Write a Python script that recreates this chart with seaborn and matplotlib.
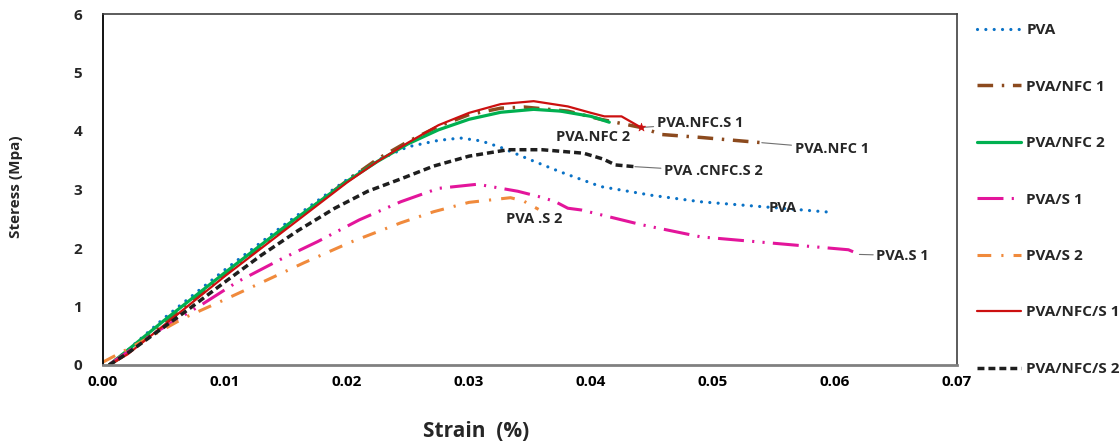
import numpy as np
import pandas as pd
import matplotlib
matplotlib.use("Agg")
import matplotlib.pyplot as plt
import seaborn as sns

# ---- stress-strain data (strain in %, stress in MPa) ----
pva_x = [0.0005, 0.002, 0.005, 0.010, 0.015, 0.020, 0.0225, 0.025, 0.0275, 0.0293,
         0.031, 0.0326, 0.035, 0.0375, 0.0408, 0.045, 0.049, 0.055, 0.0597]
pva_y = [0.0, 0.25, 0.80, 1.63, 2.42, 3.17, 3.50, 3.73, 3.84, 3.88,
         3.83, 3.72, 3.51, 3.30, 3.05, 2.90, 2.79, 2.69, 2.61]

nfc1_x = [0.0005, 0.002, 0.005, 0.010, 0.015, 0.020, 0.0225, 0.025, 0.0275, 0.030,
          0.0326, 0.0345, 0.0381, 0.0408, 0.0441, 0.0458, 0.049, 0.054]
nfc1_y = [0.0, 0.20, 0.70, 1.55, 2.35, 3.15, 3.52, 3.82, 4.08, 4.28,
          4.39, 4.41, 4.34, 4.20, 4.06, 3.94, 3.89, 3.80]

nfc2_x = [0.0005, 0.002, 0.005, 0.010, 0.015, 0.020, 0.0225, 0.025, 0.0275, 0.030,
          0.0326, 0.0353, 0.0375, 0.040, 0.0415]
nfc2_y = [0.0, 0.25, 0.76, 1.58, 2.38, 3.14, 3.48, 3.78, 4.02, 4.20,
          4.32, 4.37, 4.34, 4.25, 4.15]

s1_x = [0.0006, 0.002, 0.004, 0.008, 0.011, 0.0145, 0.0176, 0.021, 0.0244, 0.0275,
        0.0307, 0.034, 0.0357, 0.037, 0.0381, 0.0392, 0.0441, 0.049, 0.0545, 0.0611, 0.062]
s1_y = [0.02, 0.22, 0.52, 1.02, 1.42, 1.80, 2.11, 2.48, 2.79, 3.02,
        3.09, 2.97, 2.88, 2.80, 2.68, 2.65, 2.40, 2.19, 2.09, 1.97, 1.89]

s2_x = [0.0, 0.003, 0.0066, 0.010, 0.0129, 0.0165, 0.0203, 0.0244, 0.0271, 0.030,
        0.0334, 0.0345, 0.0357]
s2_y = [0.05, 0.38, 0.80, 1.12, 1.40, 1.75, 2.10, 2.43, 2.62, 2.78,
        2.86, 2.80, 2.66]

nfcs1_x = [0.0005, 0.002, 0.005, 0.010, 0.015, 0.020, 0.0225, 0.025, 0.0275, 0.030,
           0.0326, 0.0353, 0.0381, 0.040, 0.0411, 0.0425, 0.0441]
nfcs1_y = [0.0, 0.18, 0.68, 1.52, 2.32, 3.12, 3.48, 3.80, 4.10, 4.31,
           4.46, 4.51, 4.42, 4.31, 4.25, 4.25, 4.06]

nfcs2_x = [0.0005, 0.002, 0.004, 0.007, 0.010, 0.013, 0.016, 0.019, 0.0217, 0.0244,
           0.0271, 0.030, 0.0332, 0.036, 0.0394, 0.041, 0.042, 0.0436]
nfcs2_y = [0.0, 0.20, 0.50, 0.95, 1.42, 1.88, 2.30, 2.68, 2.97, 3.18,
           3.40, 3.57, 3.68, 3.68, 3.62, 3.52, 3.42, 3.39]

labels = ["PVA", "PVA/NFC 1", "PVA/NFC 2", "PVA/S 1", "PVA/S 2",
          "PVA/NFC/S 1", "PVA/NFC/S 2"]
x_ticks = [0.00, 0.01, 0.02, 0.03, 0.04, 0.05, 0.06, 0.07]
y_ticks = [0, 1, 2, 3, 4, 5, 6]

series = [(pva_x, pva_y), (nfc1_x, nfc1_y), (nfc2_x, nfc2_y), (s1_x, s1_y),
          (s2_x, s2_y), (nfcs1_x, nfcs1_y), (nfcs2_x, nfcs2_y)]

styles = [
    dict(color="#0A72C6", lw=2.3, ls=(0, (0.01, 2.6)), cap="round"),
    dict(color="#8C4A1E", lw=2.5, ls=(0, (4.5, 2.5, 0.7, 2.5)), cap="butt"),
    dict(color="#00B050", lw=2.3, ls="-", cap="butt"),
    dict(color="#E3159B", lw=2.2, ls=(0, (8.5, 2.7, 0.7, 2.7, 0.7, 2.7)), cap="butt"),
    dict(color="#F08A3C", lw=2.2, ls=(0, (4.5, 3.3, 0.7, 3.3)), cap="butt"),
    dict(color="#CC1010", lw=1.6, ls="-", cap="butt"),
    dict(color="#1E1E1E", lw=2.5, ls=(0, (2.0, 1.15)), cap="butt"),
]

sns.set_style("white")
plt.rcParams["font.family"] = ["Open Sans", "DejaVu Sans"]

fig = plt.figure(figsize=(11.2, 4.43), dpi=100)
ax = fig.add_axes([103 / 1120, 1 - 365 / 443, 854 / 1120, 351 / 443])

for (xs, ys), lab, st in zip(series, labels, styles):
    df = pd.DataFrame({"strain": xs, "stress": ys})
    sns.lineplot(data=df, x="strain", y="stress", ax=ax, label=lab,
                 estimator=None, sort=False, color=st["color"],
                 linewidth=st["lw"], linestyle=st["ls"])
    ax.get_lines()[-1].set_dash_capstyle(st["cap"])

# break point of PVA/NFC/S 1
sns.scatterplot(x=[nfcs1_x[-1]], y=[nfcs1_y[-1]], ax=ax, marker="*", s=40,
                color="#CC1010", edgecolor="#CC1010", linewidth=0.4,
                legend=False, zorder=5)

ax.set_xlim(0, 0.07)
ax.set_ylim(0, 6)
ax.set_xticks(x_ticks)
ax.set_xticklabels([f"{v:.2f}" for v in x_ticks])
ax.set_yticks(y_ticks)
ax.set_yticklabels([str(v) for v in y_ticks])
ax.tick_params(axis="both", direction="in", length=4, width=1, labelsize=11)
ax.tick_params(axis="x", pad=7, colors="#555555", labelcolor="black")
ax.tick_params(axis="y", pad=15)
for t in ax.get_xticklabels() + ax.get_yticklabels():
    t.set_fontweight("bold")

ax.spines["left"].set_color("black")
ax.spines["left"].set_linewidth(1.3)
ax.spines["bottom"].set_color("#808080")
ax.spines["bottom"].set_linewidth(2.0)
for s in ("top", "right"):
    ax.spines[s].set_color("#404040")
    ax.spines[s].set_linewidth(1.2)

ax.set_xlabel("Strain  (%)", fontsize=15, fontweight="bold")
ax.set_ylabel("Steress (Mpa)", fontsize=11, fontweight="bold")
ax.xaxis.set_label_coords(0.437, -0.16)
ax.yaxis.set_label_coords(-0.094, 0.507)

# curve labels, some with short leader lines
lead = dict(arrowstyle="-", color="#707070", lw=0.8, shrinkA=0, shrinkB=0)
txt = dict(fontsize=10.5, fontweight="bold", va="center", ha="left")
ax.annotate("PVA.NFC.S 1", xy=(nfcs1_x[-1], nfcs1_y[-1]), xytext=(0.0454, 4.13),
            arrowprops=lead, **txt)
ax.text(0.0371, 3.89, "PVA.NFC 2", **txt)
ax.annotate("PVA.NFC 1", xy=(nfc1_x[-1], nfc1_y[-1]), xytext=(0.0567, 3.70),
            arrowprops=lead, **txt)
ax.annotate("PVA .CNFC.S 2", xy=(nfcs2_x[-1], nfcs2_y[-1]), xytext=(0.0460, 3.31),
            arrowprops=lead, **txt)
ax.text(0.0546, 2.69, "PVA", **txt)
ax.text(0.0330, 2.49, "PVA .S 2", **txt)
ax.annotate("PVA.S 1", xy=(s1_x[-1], s1_y[-1]), xytext=(0.0634, 1.87),
            arrowprops=lead, **txt)

leg = ax.legend(loc="center left", bbox_to_anchor=(1.0234, 0.4715), frameon=False,
                borderpad=0, borderaxespad=0, labelspacing=2.78, handlelength=2.9,
                handletextpad=0.33, prop=dict(size=11, weight="bold"))

fig.savefig("out.png", dpi=100)
